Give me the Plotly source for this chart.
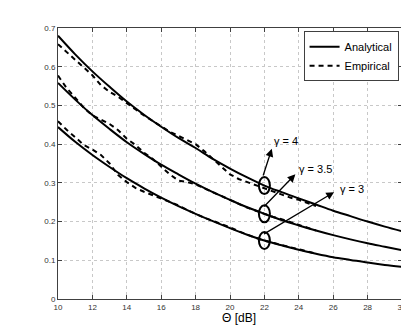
import plotly.graph_objects as go

# Theta in dB
theta_analytical = list(range(10, 31))
theta_empirical = [10 + 0.5 * i for i in range(31)]  # 10 .. 25

# analytical curves
analytical_g4 = [0.680, 0.632, 0.588, 0.548, 0.510, 0.476, 0.445, 0.416, 0.390, 0.362, 0.337,
                 0.314, 0.293, 0.276, 0.260, 0.244, 0.228, 0.214, 0.200, 0.187, 0.175]
analytical_g35 = [0.558, 0.515, 0.475, 0.439, 0.405, 0.375, 0.347, 0.322, 0.298, 0.276, 0.256,
                  0.237, 0.220, 0.204, 0.190, 0.177, 0.165, 0.154, 0.144, 0.135, 0.126]
analytical_g3 = [0.444, 0.406, 0.372, 0.341, 0.312, 0.286, 0.262, 0.240, 0.220, 0.201, 0.183,
                 0.166, 0.151, 0.139, 0.127, 0.117, 0.108, 0.101, 0.094, 0.088, 0.083]

# empirical (simulated) curves
empirical_g4 = [0.658, 0.637, 0.618, 0.598, 0.578, 0.552, 0.535, 0.522, 0.505, 0.490, 0.474,
                0.459, 0.446, 0.432, 0.422, 0.412, 0.400, 0.382, 0.362, 0.344, 0.322,
                0.310, 0.302, 0.294, 0.285, 0.278, 0.270, 0.262, 0.256, 0.248, 0.240]
empirical_g35 = [0.577, 0.545, 0.520, 0.494, 0.474, 0.462, 0.452, 0.436, 0.414, 0.398, 0.378,
                 0.362, 0.343, 0.322, 0.306, 0.302, 0.296, 0.286, 0.275, 0.264, 0.254,
                 0.245, 0.236, 0.228, 0.219, 0.212, 0.206, 0.199, 0.190, 0.184, 0.177]
empirical_g3 = [0.459, 0.437, 0.418, 0.398, 0.386, 0.372, 0.350, 0.320, 0.302, 0.287, 0.277,
                0.268, 0.260, 0.252, 0.242, 0.230, 0.219, 0.210, 0.202, 0.194, 0.185,
                0.175, 0.166, 0.158, 0.151, 0.145, 0.139, 0.133, 0.127, 0.122, 0.117]

gamma_labels = ["γ = 4", "γ = 3.5", "γ = 3"]
# label anchor (left edge) and arrow head positions, data units
label_pos = [(22.45, 0.408), (23.9, 0.335), (26.25, 0.283)]
arrow_head = [(22.43, 0.388), (23.8, 0.322), (26.05, 0.276)]
theta_mark = 22

FONT = "Liberation Sans, Arial, sans-serif"

fig = go.Figure()

analytical = [analytical_g4, analytical_g35, analytical_g3]
empirical = [empirical_g4, empirical_g35, empirical_g3]

for i, ys in enumerate(analytical):
    fig.add_trace(go.Scatter(
        x=theta_analytical, y=ys, mode="lines", line=dict(color="black", width=2, shape="spline"),
        name="Analytical", legendgroup="a", showlegend=(i == 0),
    ))
for i, ys in enumerate(empirical):
    fig.add_trace(go.Scatter(
        x=theta_empirical, y=ys, mode="lines", line=dict(color="black", width=2, dash="5px,4px"),
        name="Empirical", legendgroup="e", showlegend=(i == 0),
    ))

k = theta_analytical.index(theta_mark)
for i, ys in enumerate(analytical):
    yc = ys[k]
    fig.add_shape(type="circle", xref="x", yref="y",
                  x0=theta_mark - 0.32, x1=theta_mark + 0.32, y0=yc - 0.022, y1=yc + 0.022,
                  line=dict(color="black", width=2))
    hx, hy = arrow_head[i]
    fig.add_annotation(x=hx, y=hy, ax=theta_mark - 0.1, ay=yc + 0.022 if i == 0 else yc + 0.015,
                       xref="x", yref="y", axref="x", ayref="y", text="",
                       showarrow=True, arrowhead=2, arrowsize=1.2, arrowwidth=1.3, arrowcolor="black")
    lx, ly = label_pos[i]
    fig.add_annotation(x=lx, y=ly, xref="x", yref="y", text=gamma_labels[i], showarrow=False,
                       xanchor="left", yanchor="middle", font=dict(family=FONT, size=11, color="black"))

# x axis title as a plain annotation so the margins stay fixed
fig.add_annotation(x=0.526, y=-0.07, xref="paper", yref="paper", text="Θ [dB]", showarrow=False,
                   xanchor="center", yanchor="middle", font=dict(family=FONT, size=12, color="black"))

axis_common = dict(
    showgrid=True, gridcolor="#c8c8c8", griddash="dot", gridwidth=1,
    showline=True, linecolor="#404040", linewidth=1, mirror="ticks",
    ticks="inside", ticklen=4, tickcolor="#404040", zeroline=False, automargin=False,
    tickfont=dict(family=FONT, size=8, color="#333333"), ticklabeloverflow="allow",
)

fig.update_xaxes(range=[10, 30], dtick=2, tick0=10, **axis_common)
fig.update_yaxes(range=[0, 0.7], dtick=0.1, tickformat="~g", **axis_common)

# the page body adds an 8px offset, so the figure is 8px smaller than the window
fig.update_layout(
    width=401, height=319,
    margin=dict(l=50, r=7, t=20, b=28),
    paper_bgcolor="white", plot_bgcolor="white",
    font=dict(family=FONT),
    legend=dict(x=0.99, y=0.988, xanchor="right", yanchor="top",
                bgcolor="white", bordercolor="#404040", borderwidth=1,
                font=dict(family=FONT, size=11, color="black"),
                itemwidth=30, tracegroupgap=0),
)

fig.write_html("out.html")
